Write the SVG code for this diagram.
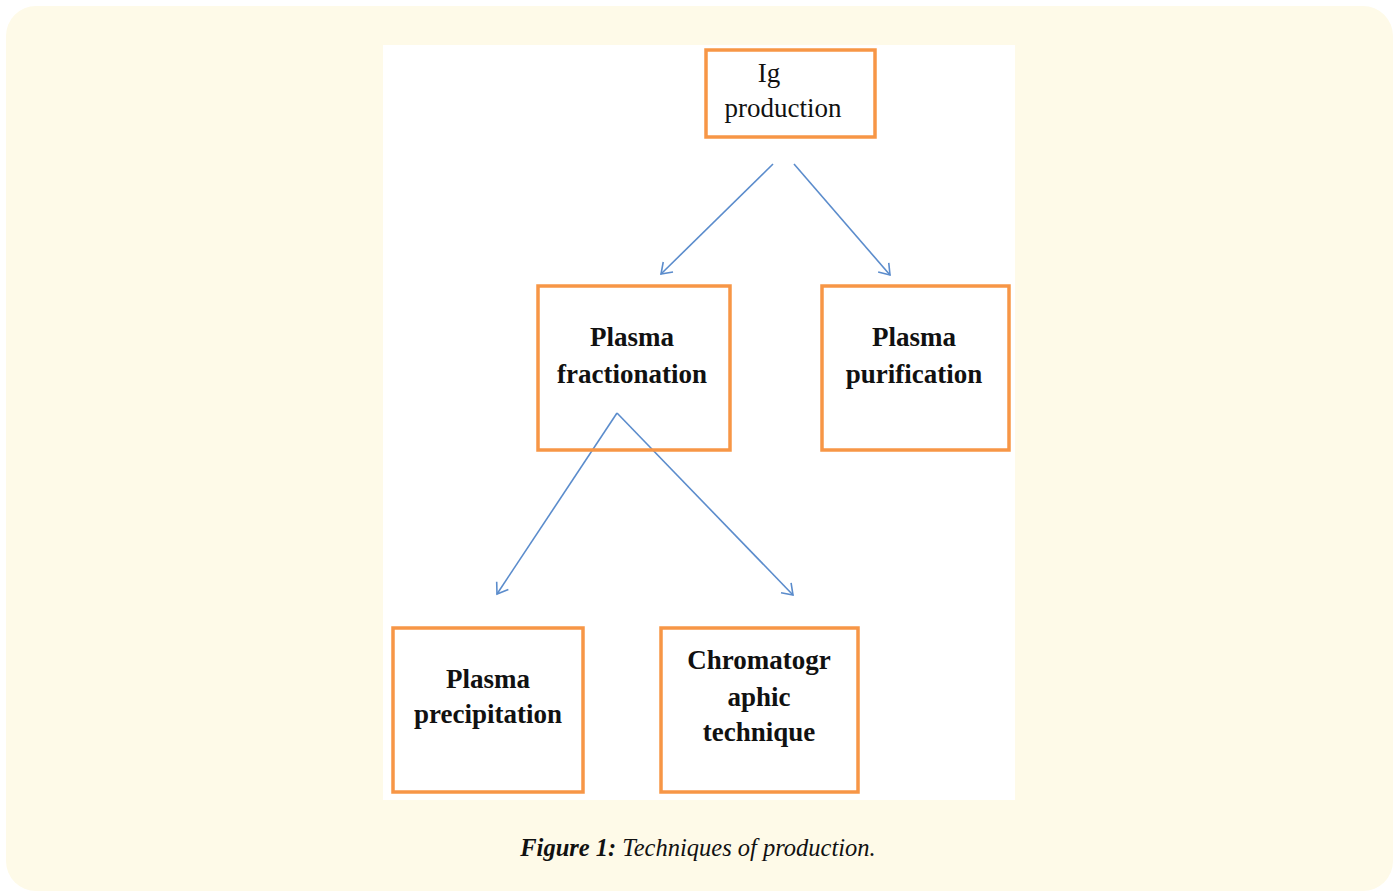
<svg xmlns="http://www.w3.org/2000/svg" width="1395" height="894" viewBox="0 0 1395 894">
<defs>
<style>
.box{fill:none;stroke:#f79646;stroke-width:3.5}
.lbl{font-family:"Liberation Serif","Times New Roman",serif;font-size:27px;fill:#111;text-anchor:middle}
.b{font-weight:bold}
.conn{stroke:#5b8ccc;stroke-width:1.6;fill:none}
.cap{font-family:"Liberation Serif","Times New Roman",serif;font-size:24.5px;font-style:italic;fill:#111}
</style>
<marker id="arr" markerUnits="userSpaceOnUse" markerWidth="24" markerHeight="24" refX="12" refY="12" orient="auto" viewBox="0 0 24 24">
<path d="M2,5 L12,12 L2,19" fill="none" stroke="#5b8ccc" stroke-width="1.6"/>
</marker>
</defs>
<rect x="0" y="0" width="1395" height="894" fill="#ffffff"/>
<rect x="6" y="6" width="1387" height="885" rx="30" fill="#fefae8"/>
<rect x="383" y="45" width="632" height="755" fill="#ffffff"/>
<g id="connectors">
<line class="conn" x1="773" y1="164" x2="661" y2="274" marker-end="url(#arr)"/>
<line class="conn" x1="794" y1="164" x2="890" y2="275" marker-end="url(#arr)"/>
<line class="conn" x1="617" y1="413" x2="497" y2="594" marker-end="url(#arr)"/>
<line class="conn" x1="617" y1="413" x2="793" y2="595" marker-end="url(#arr)"/>
</g>
<g id="ig-production">
<rect class="box" x="706" y="50" width="169" height="87"/>
<text class="lbl" x="769" y="82">Ig</text>
<text class="lbl" x="783" y="117">production</text>
</g>
<g id="plasma-fractionation">
<rect class="box" x="538" y="286" width="192" height="164"/>
<text class="lbl b" x="632" y="346">Plasma</text>
<text class="lbl b" x="632" y="383">fractionation</text>
</g>
<g id="plasma-purification">
<rect class="box" x="822" y="286" width="187" height="164"/>
<text class="lbl b" x="914" y="346">Plasma</text>
<text class="lbl b" x="914" y="383">purification</text>
</g>
<g id="plasma-precipitation">
<rect class="box" x="393" y="628" width="190" height="164"/>
<text class="lbl b" x="488" y="688">Plasma</text>
<text class="lbl b" x="488" y="723">precipitation</text>
</g>
<g id="chromatographic-technique">
<rect class="box" x="661" y="628" width="197" height="164"/>
<text class="lbl b" x="759" y="669">Chromatogr</text>
<text class="lbl b" x="759" y="706">aphic</text>
<text class="lbl b" x="759" y="741">technique</text>
</g>
<text class="cap" x="698" y="856" text-anchor="middle"><tspan font-weight="bold">Figure 1:</tspan> Techniques of production.</text>
</svg>
